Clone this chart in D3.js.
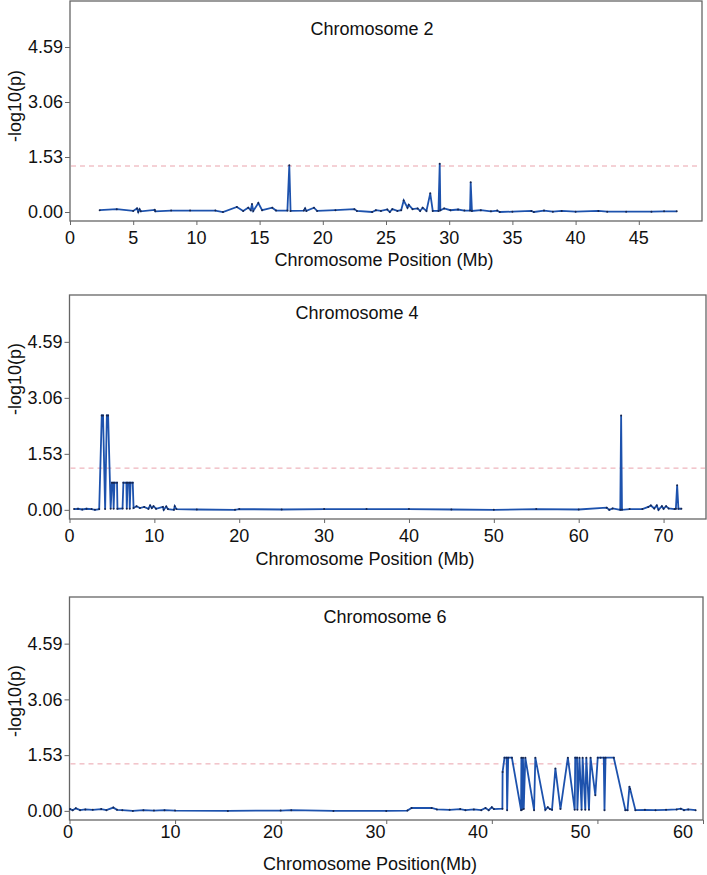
<!DOCTYPE html>
<html>
<head>
<meta charset="utf-8">
<script src="https://d3js.org/d3.v7.min.js"></script>
<style>
  body { margin: 0; background: #fff; }
  text { font-family: Arial, "Liberation Sans", sans-serif; fill: #111; }
</style>
</head>
<body>
<div id="chart"></div>
<script>
// DATA (position in Mb, -log10(p))
var chr2Pos = [2.35, 3.7, 5.0, 5.3, 5.4, 5.5, 5.6, 6.7, 6.75, 8.0, 9.5, 11.5, 12.1, 13.2, 13.7, 14.1, 14.3, 14.4, 14.5, 14.9, 15.2, 16.0, 16.3, 17.2, 17.35, 17.45, 18.5, 18.6, 18.7, 19.3, 19.55, 21.0, 22.5, 22.7, 23.9, 24.2, 24.6, 25.1, 25.3, 25.5, 25.9, 26.2, 26.4, 26.7, 26.8, 27.1, 27.5, 27.7, 27.9, 28.2, 28.5, 28.7, 29.15, 29.25, 29.3, 29.6, 30.1, 30.7, 31.2, 31.65, 31.7, 31.8, 32.5, 33.3, 33.8, 34.0, 35.0, 36.5, 36.7, 37.5, 38.2, 38.9, 40.0, 41.8, 42.5, 44.0, 46.0, 47.0, 48.0]
var chr2Val = [0.05, 0.08, 0.03, 0.1, 0.0, 0.08, 0.02, 0.06, 0.02, 0.04, 0.04, 0.04, 0.0, 0.14, 0.03, 0.12, 0.05, 0.22, 0.03, 0.25, 0.05, 0.12, 0.04, 0.04, 1.3, 0.03, 0.04, 0.1, 0.03, 0.12, 0.03, 0.05, 0.08, 0.03, 0.0, 0.05, 0.03, 0.07, 0.0, 0.08, 0.03, 0.05, 0.32, 0.12, 0.2, 0.08, 0.1, 0.03, 0.12, 0.03, 0.52, 0.03, 0.03, 1.34, 0.05, 0.1, 0.05, 0.07, 0.04, 0.04, 0.83, 0.03, 0.05, 0.02, 0.04, 0.0, 0.01, 0.03, 0.0, 0.04, 0.01, 0.03, 0.01, 0.03, 0.01, 0.01, 0.01, 0.02, 0.02]

var chr4Pos = [0.54, 1.0, 1.5, 2.0, 2.6, 3.0, 3.5, 3.8, 3.95, 4.2, 4.4, 4.55, 4.85, 5.0, 5.15, 5.2, 5.3, 5.6, 5.65, 6.25, 6.35, 6.7, 6.75, 6.85, 7.05, 7.1, 7.2, 7.45, 7.55, 7.9, 8.3, 8.8, 9.3, 9.5, 9.7, 9.9, 10.2, 11.0, 11.1, 11.4, 11.6, 12.3, 12.4, 12.6, 15, 19.5, 20, 25, 30, 35, 40, 45, 50, 55, 60, 63.3, 63.6, 64.0, 64.9, 65.0, 65.1, 66, 67.5, 68.2, 68.5, 68.9, 69.2, 69.4, 69.8, 70.0, 70.3, 70.6, 71.3, 71.45, 71.6, 71.75, 72.1]
var chr4Val = [0.02, 0.03, 0.01, 0.03, 0.02, 0.0, 0.02, 2.58, 2.58, 0.02, 2.58, 2.58, 0.03, 0.74, 0.74, 0.03, 0.74, 0.74, 0.03, 0.04, 0.74, 0.74, 0.03, 0.74, 0.74, 0.03, 0.74, 0.74, 0.05, 0.1, 0.05, 0.08, 0.03, 0.12, 0.05, 0.1, 0.03, 0.08, 0.0, 0.09, 0.02, 0.0, 0.1, 0.02, 0.01, 0.0, 0.02, 0.01, 0.02, 0.02, 0.02, 0.01, 0.0, 0.02, 0.01, 0.06, 0.0, 0.04, 0.0, 2.58, 0.0, 0.02, 0.02, 0.08, 0.12, 0.04, 0.12, 0.0, 0.1, 0.03, 0.1, 0.04, 0.02, 0.03, 0.67, 0.03, 0.03]

var chr6Pos = [0.05, 0.3, 0.6, 1.0, 1.5, 2.2, 3.0, 3.5, 4.15, 4.5, 5.0, 6.0, 7.0, 8.0, 9.0, 10, 15, 20, 21, 25, 30, 32.0, 32.4, 34.3, 34.8, 36, 37, 37.5, 38.3, 39.0, 39.4, 39.7, 40.0, 40.2, 41.0, 41.02, 41.2, 41.4, 41.45, 41.55, 41.9, 42.77, 42.8, 42.86, 42.95, 43.02, 43.17, 44.0, 44.12, 45.07, 45.3, 45.5, 45.7, 46.02, 46.5, 47.2, 47.85, 47.9, 48.07, 48.1, 48.3, 48.5, 48.6, 48.85, 48.95, 49.2, 49.35, 49.8, 50.03, 50.3, 50.6, 50.67, 50.77, 51.55, 52.65, 52.85, 53.03, 53.1, 53.6, 54.5, 55.5, 56.5, 57.5, 57.9, 58.2, 58.6, 59.3]
var chr6Val = [0.05, 0.02, 0.07, 0.02, 0.04, 0.03, 0.05, 0.02, 0.09, 0.03, 0.02, 0.0, 0.02, 0.01, 0.02, 0.01, 0.0, 0.01, 0.02, 0.0, 0.0, 0.01, 0.08, 0.08, 0.04, 0.03, 0.05, 0.02, 0.04, 0.02, 0.08, 0.02, 0.1, 0.05, 0.06, 1.07, 1.46, 1.46, 0.02, 1.46, 1.46, 0.02, 1.46, 0.03, 1.46, 0.05, 1.46, 0.02, 1.46, 0.03, 0.1, 0.05, 0.03, 1.16, 0.05, 1.46, 0.03, 1.46, 1.46, 0.03, 1.46, 0.03, 1.46, 0.03, 1.46, 0.03, 1.46, 0.43, 1.46, 1.46, 1.46, 0.02, 1.46, 1.46, 0.02, 0.02, 0.66, 0.6, 0.02, 0.03, 0.02, 0.03, 0.04, 0.06, 0.02, 0.04, 0.02]

var yTicks = [0, 1.53, 3.06, 4.59]
var chr2Ticks = [0, 5, 10, 15, 20, 25, 30, 35, 40, 45]
var chr4Ticks = [0, 10, 20, 30, 40, 50, 60, 70]
var chr6Ticks = [0, 10, 20, 30, 40, 50, 60]
var thresholds = [1.28, 1.14, 1.29]
var titles = ["Chromosome 2", "Chromosome 4", "Chromosome 6"]
var xTitles = ["Chromosome Position (Mb)", "Chromosome Position (Mb)", "Chromosome Position(Mb)"]

// LAYOUT

var width = 707, height = 875
var svg = d3.select('#chart').append('svg')
    .attr('width', width)
    .attr('height', height)
svg.append('rect').attr('width', width).attr('height', height).attr('fill', '#fff')

var panels = [
    { pos: chr2Pos, val: chr2Val, ticks: chr2Ticks, xmax: 50, left: 70, right: 702, top: 1, bottom: 221,
      labelRange: null, tickDy: 17, titleXY: [372, 29], xTitleXY: [384, 260], yTitleY: 106 },
    { pos: chr4Pos, val: chr4Val, ticks: chr4Ticks, xmax: 75, left: 69.5, right: 706, top: 295, bottom: 519,
      labelRange: null, tickDy: 17, titleXY: [357, 313], xTitleXY: [365, 559], yTitleY: 379 },
    { pos: chr6Pos, val: chr6Val, ticks: chr6Ticks, xmax: 60, left: 69.5, right: 703, top: 597, bottom: 820,
      labelRange: [68, 683], tickDy: 12, titleXY: [385, 617], xTitleXY: [370, 864], yTitleY: 701 }
]

panels.forEach(function (p, i) {
    var x = d3.scaleLinear().domain([0, p.xmax]).range([p.left, p.right])
    var y = d3.scaleLinear().domain([-0.25, 5.87]).range([p.bottom, p.top])
    // tick labels in panel 3 were placed a bit off the tick marks
    var xLab = p.labelRange ? d3.scaleLinear().domain([0, 60]).range(p.labelRange) : x

    var g = svg.append('g')

    // frame
    g.append('rect')
        .attr('x', p.left).attr('y', p.top)
        .attr('width', p.right - p.left).attr('height', p.bottom - p.top)
        .attr('fill', 'none').attr('stroke', '#666').attr('stroke-width', 1.3)

    // x axis tick marks
    var xAxis = g.append('g')
        .attr('transform', 'translate(0,' + p.bottom + ')')
        .call(d3.axisBottom(x).tickValues(p.ticks).tickSize(4).tickFormat(''))
    xAxis.select('.domain').remove()
    xAxis.selectAll('line').attr('stroke', '#666')

    g.selectAll('text.xtick').data(p.ticks).enter().append('text')
        .attr('class', 'xtick')
        .attr('x', function (d) { return xLab(d) })
        .attr('y', p.bottom + p.tickDy)
        .attr('text-anchor', 'middle')
        .attr('dominant-baseline', 'central')
        .style('font-size', '18px')
        .text(function (d) { return d })

    // y axis
    var yAxis = g.append('g')
        .attr('transform', 'translate(' + p.left + ',0)')
        .call(d3.axisLeft(y).tickValues(yTicks).tickSize(5).tickPadding(2).tickFormat(d3.format('.2f')))
    yAxis.select('.domain').remove()
    yAxis.selectAll('line').attr('stroke', '#666')
    yAxis.selectAll('text')
        .style('font-size', '18px')
        .attr('fill', '#111')
        .style('font-family', 'Arial, "Liberation Sans", sans-serif')

    // threshold line
    g.append('line')
        .attr('x1', p.left + 1).attr('x2', p.right - 1)
        .attr('y1', y(thresholds[i])).attr('y2', y(thresholds[i]))
        .attr('stroke', '#eaa3ac').attr('stroke-width', 1)
        .attr('stroke-dasharray', '5,4')

    // series
    var pts = p.pos.map(function (d, j) { return [d, p.val[j]] })
    var line = d3.line().x(function (d) { return x(d[0]) }).y(function (d) { return y(d[1]) })
    g.append('path')
        .datum(pts)
        .attr('d', line)
        .attr('fill', 'none')
        .attr('stroke', '#1d52ad')
        .attr('stroke-width', 1.8)
        .attr('stroke-linejoin', 'miter')
    g.selectAll('circle.pt').data(pts).enter().append('circle')
        .attr('class', 'pt')
        .attr('cx', function (d) { return x(d[0]) })
        .attr('cy', function (d) { return y(d[1]) })
        .attr('r', 1)
        .attr('fill', '#16264f')

    // texts
    g.append('text')
        .attr('x', p.titleXY[0]).attr('y', p.titleXY[1])
        .attr('text-anchor', 'middle').attr('dominant-baseline', 'central')
        .style('font-size', '18px')
        .text(titles[i])
    g.append('text')
        .attr('x', p.xTitleXY[0]).attr('y', p.xTitleXY[1])
        .attr('text-anchor', 'middle').attr('dominant-baseline', 'central')
        .style('font-size', '18px')
        .text(xTitles[i])
    g.append('text')
        .attr('transform', 'translate(15,' + p.yTitleY + ') rotate(-90)')
        .attr('text-anchor', 'middle').attr('dominant-baseline', 'central')
        .style('font-size', '18px')
        .text('-log10(p)')
})
</script>
</body>
</html>
